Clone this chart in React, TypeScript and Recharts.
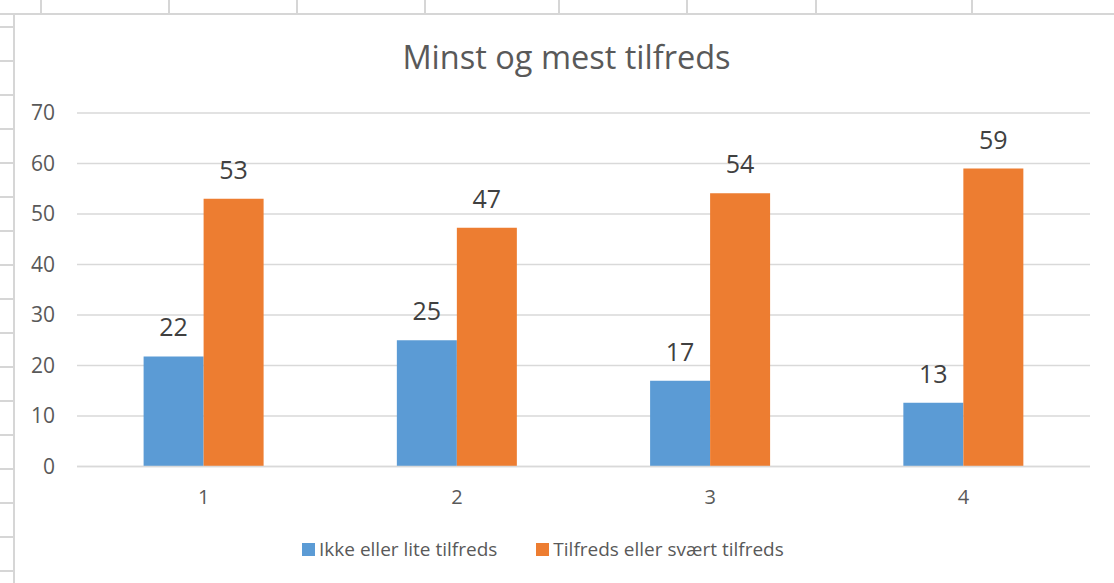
import React from 'react';
import { BarChart, Bar, XAxis, YAxis, CartesianGrid, Legend, LabelList } from 'recharts';

// chart values
const categories = ['1', '2', '3', '4'];
const ikkeTilfreds = [21.8, 25.0, 17.0, 12.6];
const tilfreds = [53.0, 47.3, 54.1, 59.0];
const yTicks = [0, 10, 20, 30, 40, 50, 60, 70];
const seriesNames = ['Ikke eller lite tilfreds', 'Tilfreds eller svært tilfreds'];
const title = 'Minst og mest tilfreds';

const chartData = categories.map((c, i) => ({
  name: c,
  ikke: ikkeTilfreds[i],
  tilfreds: tilfreds[i],
}));

// spreadsheet cell lines around the chart object
const sheetColumns = [41, 169, 297, 425, 559, 687, 816, 972];
const sheetRows = [27, 61, 95, 129, 163, 197, 231, 265, 299, 333, 367, 401, 435, 469, 503, 537, 571];
const sheetLine = '#D6D6D6';

const renderLegend = (props: any) => {
  const { payload } = props;
  return (
    <div style={{ display: 'flex', alignItems: 'center' }}>
      {payload.map((entry: any, i: number) => (
        <div
          key={i}
          style={{ display: 'flex', alignItems: 'center', marginRight: i === 0 ? 39 : 0 }}
        >
          <span style={{ display: 'inline-block', width: 13, height: 13, background: entry.color, marginRight: 4 }} />
          <span style={{ fontSize: 19, lineHeight: '19px', color: '#595959' }}>{entry.value}</span>
        </div>
      ))}
    </div>
  );
};

const App: React.FC = () => {
  return (
    <div
      style={{
        position: 'absolute',
        left: 0,
        top: 0,
        width: 1114,
        height: 583,
        background: '#fff',
        overflow: 'hidden',
        fontFamily: '"Open Sans", sans-serif',
      }}
    >
      {sheetColumns.map((x) => (
        <div key={'c' + x} style={{ position: 'absolute', left: x - 1, top: 0, width: 2, height: 14, background: sheetLine }} />
      ))}
      {sheetRows.map((y) => (
        <div key={'r' + y} style={{ position: 'absolute', left: 0, top: y - 1, width: 14, height: 2, background: sheetLine }} />
      ))}
      <div style={{ position: 'absolute', left: 0, top: 13, width: 1114, height: 2, background: sheetLine }} />
      <div style={{ position: 'absolute', left: 13, top: 13, width: 2, height: 570, background: sheetLine }} />

      <div
        style={{
          position: 'absolute',
          left: 0,
          top: 41,
          width: 1133,
          textAlign: 'center',
          fontSize: 32.5,
          lineHeight: '32px',
          color: '#595959',
        }}
      >
        {title}
      </div>

      <BarChart
        width={1114}
        height={583}
        data={chartData}
        margin={{ top: 113, right: 24, left: 0, bottom: 86.5 }}
        barCategoryGap="26.3%"
        barGap={0}
        style={{ position: 'absolute', left: 0, top: 0 }}
      >
        <CartesianGrid vertical={false} stroke="#D9D9D9" strokeWidth={1.5} />
        <XAxis
          dataKey="name"
          axisLine={{ stroke: '#D9D9D9', strokeWidth: 1.5 }}
          tickLine={false}
          tickMargin={17}
          tick={{ fontSize: 20, fill: '#595959' }}
        />
        <YAxis
          domain={[0, 70]}
          ticks={yTicks}
          width={77}
          axisLine={false}
          tickLine={false}
          tickMargin={16}
          tick={{ fontSize: 21, fill: '#595959' }}
        />
        <Legend
          layout="horizontal"
          verticalAlign="middle"
          align="center"
          content={renderLegend}
          wrapperStyle={{ left: 302, top: 540, width: 'auto' }}
        />
        <Bar dataKey="ikke" name={seriesNames[0]} fill="#5B9BD5" isAnimationActive={false}>
          <LabelList
            dataKey="ikke"
            position="top"
            offset={20}
            fill="#404040"
            fontSize={25}
            formatter={(v: any) => Math.round(Number(v))}
          />
        </Bar>
        <Bar dataKey="tilfreds" name={seriesNames[1]} fill="#ED7D31" isAnimationActive={false}>
          <LabelList
            dataKey="tilfreds"
            position="top"
            offset={20}
            fill="#404040"
            fontSize={25}
            formatter={(v: any) => Math.round(Number(v))}
          />
        </Bar>
      </BarChart>
    </div>
  );
};

export default App;
